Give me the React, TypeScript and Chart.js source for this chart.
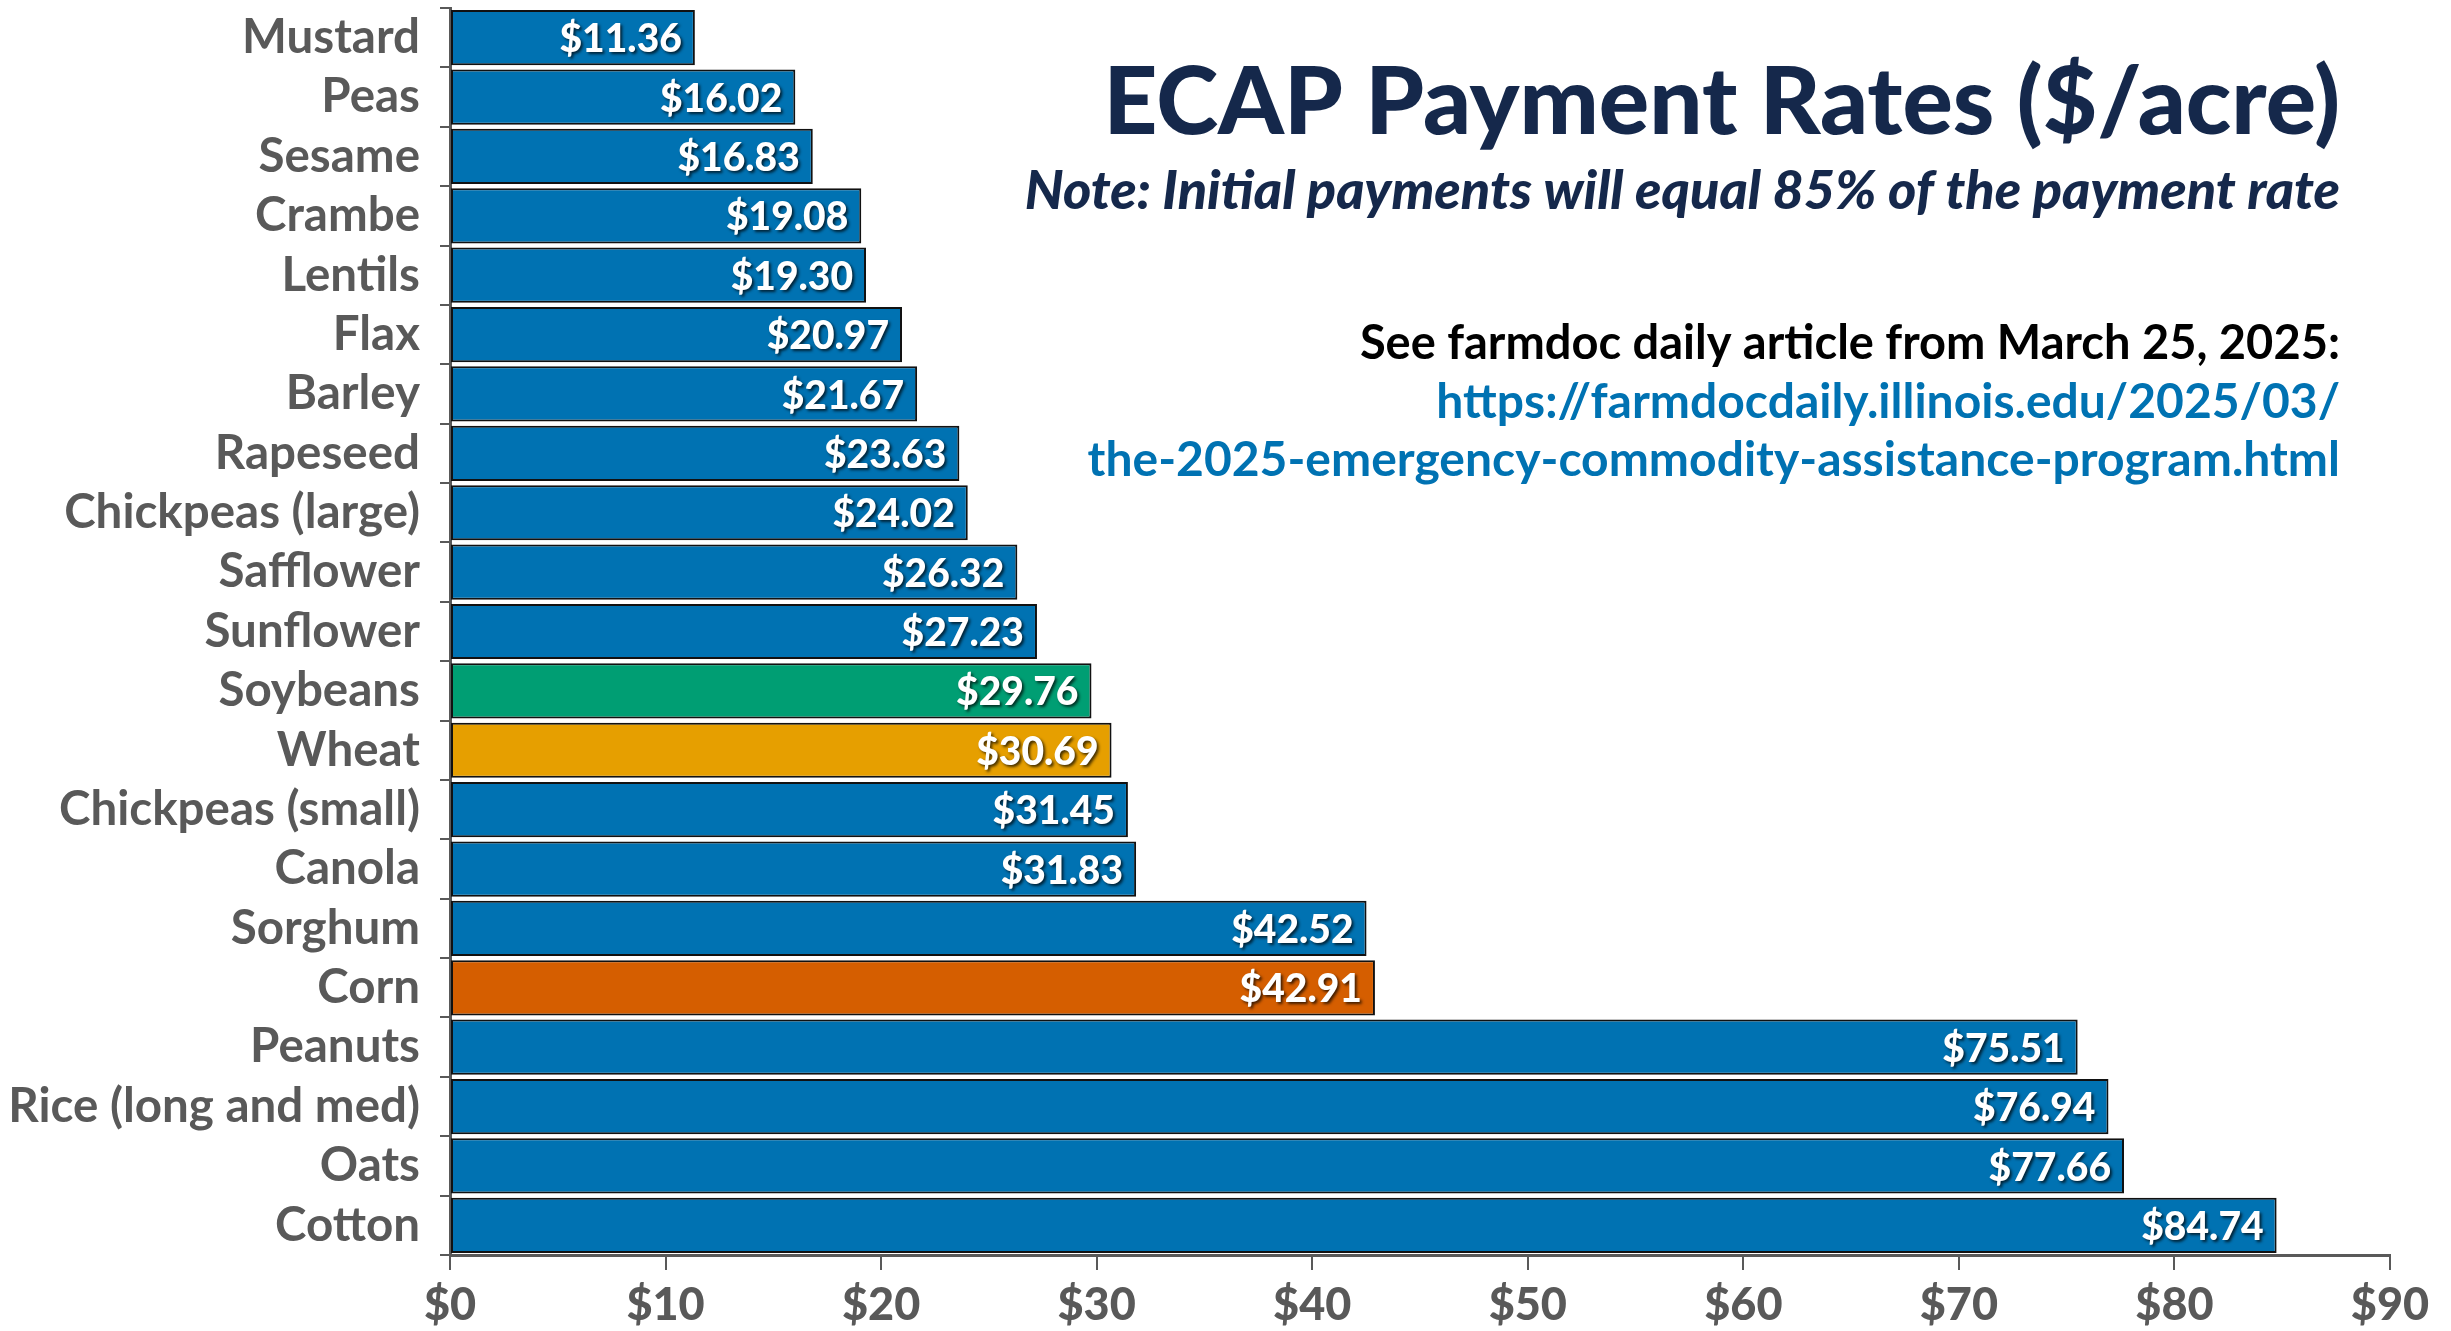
import React, { useEffect, useRef } from "react";
import { Chart, registerables } from "chart.js";

Chart.register(...registerables);

const categories = [
  "Mustard", "Peas", "Sesame", "Crambe", "Lentils", "Flax", "Barley", "Rapeseed",
  "Chickpeas (large)", "Safflower", "Sunflower", "Soybeans", "Wheat", "Chickpeas (small)",
  "Canola", "Sorghum", "Corn", "Peanuts", "Rice (long and med)", "Oats", "Cotton",
];
const rates = [
  11.36, 16.02, 16.83, 19.08, 19.3, 20.97, 21.67, 23.63, 24.02, 26.32, 27.23, 29.76,
  30.69, 31.45, 31.83, 42.52, 42.91, 75.51, 76.94, 77.66, 84.74,
];
const xMin = 0;
const xMax = 90;
const xStep = 10;

const titleText = "ECAP Payment Rates ($/acre)";
const noteText = "Note: Initial payments will equal 85% of the payment rate";
const seeText = "See farmdoc daily article from March 25, 2025:";
const linkLines = [
  "https://farmdocdaily.illinois.edu/2025/03/",
  "the-2025-emergency-commodity-assistance-program.html",
];

const FONT = "Lato";
const BASE_BLUE = "#0072B2";
const HIGHLIGHT: Record<string, string> = {
  Soybeans: "#009E73",
  Wheat: "#E69F00",
  Corn: "#D55E00",
};
const GREY = "#595959";
const NAVY = "#15284B";

const fmt = (v: number) => "$" + v.toFixed(2);

const labelPlugin = {
  id: "barLabels",
  afterDatasetsDraw(chart: any) {
    const ctx = chart.ctx;
    const meta = chart.getDatasetMeta(0);
    ctx.save();
    ctx.font = `900 39px ${FONT}`;
    ctx.textAlign = "right";
    ctx.textBaseline = "middle";
    ctx.fillStyle = "#ffffff";
    ctx.shadowColor = "rgba(0,0,0,0.7)";
    ctx.shadowOffsetX = 2;
    ctx.shadowOffsetY = 2;
    ctx.shadowBlur = 3;
    meta.data.forEach((el: any, i: number) => {
      ctx.fillText(fmt(rates[i]), el.x - 13, el.y + 2);
    });
    ctx.restore();
  },
  afterDraw(chart: any) {
    const ctx = chart.ctx;
    const rx = chart.chartArea.right - 50;
    ctx.save();
    ctx.textAlign = "right";
    ctx.textBaseline = "middle";
    ctx.fillStyle = NAVY;
    ctx.font = `900 94px ${FONT}`;
    ctx.fillText(titleText, rx, 104);
    ctx.font = `italic 900 54px ${FONT}`;
    ctx.fillText(noteText, rx, 192);
    ctx.fillStyle = "#000000";
    ctx.font = `bold 47px ${FONT}`;
    ctx.fillText(seeText, rx, 344);
    ctx.fillStyle = BASE_BLUE;
    ctx.font = `bold 48px ${FONT}`;
    ctx.fillText(linkLines[0], rx, 403);
    ctx.fillText(linkLines[1], rx, 461);
    ctx.restore();
  },
};

export default function App() {
  const ref = useRef<HTMLCanvasElement | null>(null);
  useEffect(() => {
    if (!ref.current) return;
    const chart = new Chart(ref.current, {
      type: "bar",
      data: {
        labels: categories,
        datasets: [
          {
            data: rates,
            backgroundColor: categories.map((c) => HIGHLIGHT[c] || BASE_BLUE),
            borderColor: "#111111",
            borderWidth: 2,
            borderSkipped: false,
            barPercentage: 0.93,
            categoryPercentage: 1,
          },
        ],
      },
      options: {
        indexAxis: "y",
        animation: false,
        responsive: true,
        maintainAspectRatio: false,
        layout: { padding: { left: 0, top: 8, right: 61, bottom: 0 } },
        plugins: {
          legend: { display: false },
          tooltip: { enabled: false },
          title: { display: false },
        },
        scales: {
          y: {
            type: "category",
            offset: true,
            afterFit: (s: any) => {
              s.width = 450;
              s.paddingTop = 0;
              s.paddingBottom = 0;
            },
            grid: {
              display: true,
              drawOnChartArea: false,
              drawTicks: true,
              offset: true,
              tickLength: 10,
              color: GREY,
              lineWidth: 2,
            },
            border: { display: true, color: GREY, width: 3 },
            ticks: {
              color: GREY,
              padding: 20,
              autoSkip: false,
              font: { family: FONT, size: 47.5, weight: "bold" },
            },
          },
          x: {
            type: "linear",
            min: xMin,
            max: xMax,
            afterFit: (s: any) => {
              s.height = 76;
            },
            grid: {
              display: true,
              drawOnChartArea: false,
              drawTicks: true,
              tickLength: 15,
              color: GREY,
              lineWidth: 2,
            },
            border: { display: true, color: GREY, width: 3 },
            ticks: {
              stepSize: xStep,
              color: GREY,
              padding: 8,
              autoSkip: false,
              font: { family: FONT, size: 45, weight: "900" },
              callback: (v: any) => "$" + v,
            },
          },
        },
      },
      plugins: [labelPlugin],
    });
    return () => chart.destroy();
  }, []);
  return (
    <div style={{ position: "fixed", left: 0, top: 0, width: 2451, height: 1331, background: "#fff" }}>
      <canvas ref={ref} />
    </div>
  );
}
